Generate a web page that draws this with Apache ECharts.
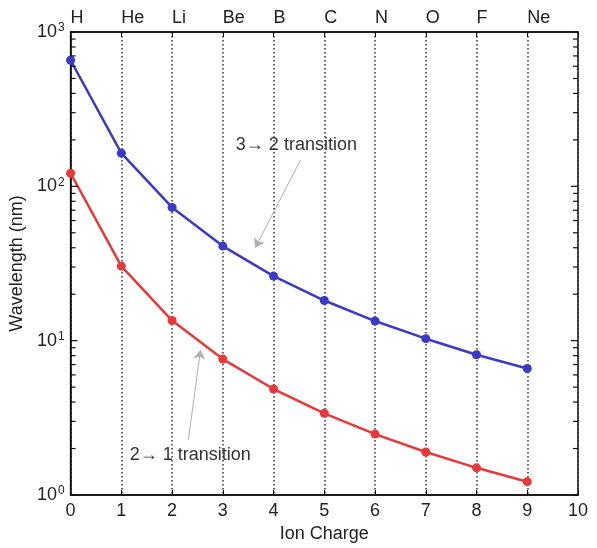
<!DOCTYPE html>
<html>
<head>
	<meta charset="UTF-8">
	<title>Wavelength vs ion charge</title>
	<script src="https://cdn.jsdelivr.net/npm/echarts@6/dist/echarts.min.js"></script>
	<style>
		html, body { margin: 0; padding: 0; background: #fff; }
	</style>
</head>
<body>
	<div id="main" style="width: 597px;height:548px;"></div>
	<script type="text/javascript">
		// ion charge on the x axis, element names along the top
		var charges = [0, 1, 2, 3, 4, 5, 6, 7, 8, 9];
		var elements = ['H', 'He', 'Li', 'Be', 'B', 'C', 'N', 'O', 'F', 'Ne'];
		// wavelengths in nm
		var lambda32 = [656, 164, 73, 41, 26.2, 18.2, 13.4, 10.3, 8.1, 6.6];
		var lambda21 = [121.6, 30.4, 13.5, 7.6, 4.86, 3.38, 2.48, 1.9, 1.5, 1.22];
		// y ticks: decades and the log minor ticks (2..9 in each decade)
		var majorTicks = [1, 10, 100, 1000];
		var minorTicks = [2, 3, 4, 5, 6, 7, 8, 9, 20, 30, 40, 50, 60, 70, 80, 90, 200, 300, 400, 500, 600, 700, 800, 900];

		var FONT = 'Liberation Sans, Arial, sans-serif';
		var myChart = echarts.init(document.getElementById('main'));

		function pairs(ys) {
			return charges.map(function (x, i) { return [x, ys[i]]; });
		}

		var supRich = {
			b: { fontSize: 18, color: '#222', fontFamily: FONT },
			s: { fontSize: 12, color: '#222', fontFamily: FONT, verticalAlign: 'top', padding: [0, 0, 8, 1] }
		};

		// short inward ticks on both side edges of the plot box
		function edgeTicks(len) {
			return function (params, api) {
				var y = api.coord([5, api.value(0)])[1];
				var cs = params.coordSys;
				var xl = cs.x, xr = cs.x + cs.width;
				var st = { stroke: '#111', lineWidth: 1.2 };
				return {
					type: 'group',
					children: [
						{ type: 'line', name: 'l', shape: { x1: xl, y1: y, x2: xl + len, y2: y }, style: st },
						{ type: 'line', name: 'r', shape: { x1: xr, y1: y, x2: xr - len, y2: y }, style: st }
					]
				};
			};
		}

		function tickSeries(name, vals, len) {
			return {
				name: name, type: 'custom', silent: true, clip: false, z: 5,
				encode: { x: 1, y: 0 },
				data: vals.map(function (v) { return [v, 5]; }),
				renderItem: edgeTicks(len)
			};
		}

		myChart.setOption({
			backgroundColor: '#fff',
			animation: false,
			grid: { left: 70, right: 19, top: 32, bottom: 53, show: true, borderColor: '#111', borderWidth: 1.5, backgroundColor: 'transparent' },
			xAxis: [{
				type: 'value', min: 0, max: 10, interval: 1, position: 'bottom',
				name: 'Ion Charge', nameLocation: 'middle', nameGap: 28,
				nameTextStyle: { fontSize: 18, color: '#222', fontFamily: FONT },
				axisLine: { lineStyle: { color: '#111', width: 1.5 } },
				axisTick: { inside: true, length: 5, lineStyle: { color: '#111' } },
				axisLabel: { fontSize: 18, color: '#222', fontFamily: FONT, margin: 7 },
				splitLine: { show: true, lineStyle: { color: '#333', type: [1.5, 2.5], width: 1.5 } }
			}, {
				type: 'value', min: 0, max: 10, interval: 1, position: 'top',
				axisLine: { lineStyle: { color: '#111', width: 1.5 } },
				axisTick: { inside: true, length: 5, lineStyle: { color: '#111' } },
				axisLabel: {
					fontSize: 18, color: '#222', fontFamily: FONT, align: 'left', margin: 5,
					formatter: function (v) { return elements[v] || ''; }
				},
				splitLine: { show: false }
			}],
			yAxis: {
				type: 'log', logBase: 10, min: 1, max: 1000, position: 'left',
				name: 'Wavelength (nm)', nameLocation: 'middle', nameGap: 42, nameRotate: 90,
				nameTextStyle: { fontSize: 18, color: '#222', fontFamily: FONT },
				axisLine: { show: true, lineStyle: { color: '#111', width: 1.5 } },
				axisTick: { show: false },
				axisLabel: {
					margin: 6, rich: supRich,
					formatter: function (v) {
						return '{b|10}{s|' + Math.round(Math.log10(v)) + '}';
					}
				},
				splitLine: { show: false }
			},
			series: [
				tickSeries('major ticks', majorTicks, 7),
				tickSeries('minor ticks', minorTicks, 5),
			{
				name: '3-2',
				type: 'line',
				data: pairs(lambda32),
				symbol: 'circle', symbolSize: 9,
				lineStyle: { color: '#3a3ac4', width: 2.5 },
				itemStyle: { color: '#3a3ac4' },
				markLine: {
					silent: true, symbol: ['none', 'arrow'], symbolSize: 9,
					label: { show: false },
					lineStyle: { color: '#b0b0b0', width: 1, type: 'solid' },
					data: [[{ coord: [4.53, 148] }, { coord: [3.64, 40] }]]
				},
				markPoint: {
					silent: true, symbol: 'circle', symbolSize: 0,
					label: { show: true, position: 'inside', fontSize: 18, color: '#333', fontFamily: FONT, formatter: '3\u2192 2 transition' },
					data: [{ coord: [4.45, 185] }]
				}
			}, {
				name: '2-1',
				type: 'line',
				data: pairs(lambda21),
				symbol: 'circle', symbolSize: 9,
				lineStyle: { color: '#e8383a', width: 2.5 },
				itemStyle: { color: '#e8383a' },
				markLine: {
					silent: true, symbol: ['none', 'arrow'], symbolSize: 9,
					label: { show: false },
					lineStyle: { color: '#b0b0b0', width: 1, type: 'solid' },
					data: [[{ coord: [2.32, 2.27] }, { coord: [2.56, 8.7] }]]
				},
				markPoint: {
					silent: true, symbol: 'circle', symbolSize: 0,
					label: { show: true, position: 'inside', fontSize: 18, color: '#333', fontFamily: FONT, formatter: '2\u2192 1 transition' },
					data: [{ coord: [2.36, 1.82] }]
				}
			}]
		});
	</script>
</body>
</html>
